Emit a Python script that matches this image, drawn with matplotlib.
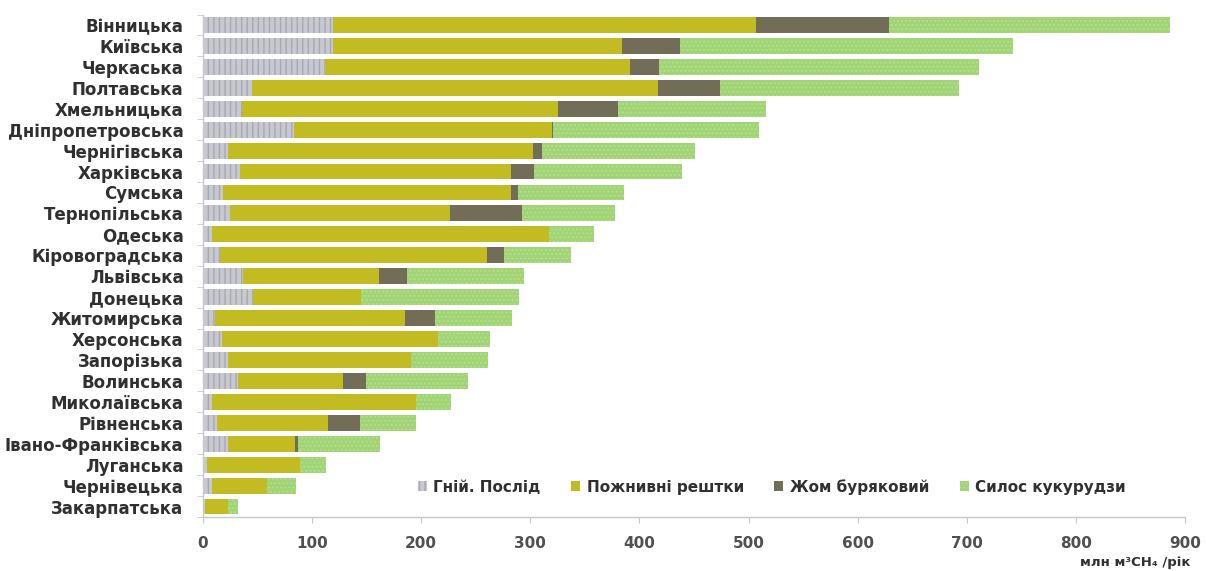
import matplotlib
matplotlib.use("Agg")
import matplotlib.pyplot as plt
import numpy as np

regions = ["Вінницька", "Київська", "Черкаська", "Полтавська", "Хмельницька",
           "Дніпропетровська", "Чернігівська", "Харківська", "Сумська",
           "Тернопільська", "Одеська", "Кіровоградська", "Львівська", "Донецька",
           "Житомирська", "Херсонська", "Запорізька", "Волинська", "Миколаївська",
           "Рівненська", "Івано-Франківська", "Луганська", "Чернівецька",
           "Закарпатська"]

manure = [119, 119, 112, 45, 36, 83, 23, 34, 18, 25, 8, 16, 37, 46, 11, 17, 23,
          32, 8, 13, 23, 4, 8, 2]
residues = [388, 265, 279, 372, 289, 237, 279, 248, 264, 201, 309, 244, 124, 99,
            174, 198, 168, 96, 187, 102, 61, 85, 51, 21]
beet_pulp = [122, 53, 27, 57, 55, 1, 9, 21, 7, 66, 0, 16, 26, 0, 28, 0, 0, 21, 0,
             29, 3, 0, 0, 0]
corn_silage = [257, 305, 293, 219, 136, 189, 140, 136, 97, 86, 41, 61, 107, 145,
               70, 48, 70, 94, 32, 51, 75, 24, 26, 9]

series_names = ["Гній. Послід", "Пожнивні рештки", "Жом буряковий", "Силос кукурудзи"]
x_ticks = [0, 100, 200, 300, 400, 500, 600, 700, 800, 900]
x_label = "млн м³CH₄ /рік"

plt.rcParams["font.family"] = ["DejaVu Sans"]
plt.rcParams["hatch.linewidth"] = 1.0

fig = plt.figure(figsize=(12.06, 5.71), dpi=100)
ax = fig.add_axes([0.1683, 0.0946, 0.8143, 0.880])

y = np.arange(len(regions))
styles = [
    dict(color="#c8c8d0", edgecolor="#a8a8b2", hatch="|||", linewidth=0),
    dict(color="#c3bb22", linewidth=0),
    dict(color="#726d56", linewidth=0),
    dict(color="#a0d474", edgecolor="#b4de8e", hatch="....", linewidth=0),
]
left = np.zeros(len(regions))
handles = []
for vals, name, st in zip([manure, residues, beet_pulp, corn_silage], series_names, styles):
    vals = np.array(vals, dtype=float)
    h = ax.barh(y, vals, left=left, height=0.76, label=name, **st)
    handles.append(h)
    left += vals

ax.set_ylim(len(regions) - 0.5, -0.5)
ax.set_xlim(0, 900)
ax.set_xticks(x_ticks)
ax.set_xticklabels([str(t) for t in x_ticks], fontsize=11, fontweight="bold", color="#505050")
ax.set_yticks(y)
ax.set_yticklabels(regions, fontsize=12, fontweight="bold", color="#303030")
ax.set_yticks(np.arange(len(regions) + 1) - 0.5, minor=True)
ax.tick_params(axis="y", which="major", length=0, pad=14)
ax.tick_params(axis="y", which="minor", length=4, color="#c8c8c8")
ax.tick_params(axis="x", which="major", length=4, color="#c8c8c8", pad=10)

for s in ["top", "right"]:
    ax.spines[s].set_visible(False)
for s in ["left", "bottom"]:
    ax.spines[s].set_color("#c8c8c8")
    ax.spines[s].set_linewidth(1.0)

leg = ax.legend(handles=handles, loc="lower left", bbox_to_anchor=(0.205, 0.017),
                ncol=4, frameon=False, handlelength=0.6, handleheight=0.6,
                handletextpad=0.4, columnspacing=2.0, prop={"weight": "bold", "size": 11})
for t in leg.get_texts():
    t.set_color("#303030")

fig.text(0.987, 0.004, x_label, ha="right", va="bottom", fontsize=9.5,
         fontweight="bold", color="#303030")

fig.savefig("out.png", dpi=100, facecolor="white")
